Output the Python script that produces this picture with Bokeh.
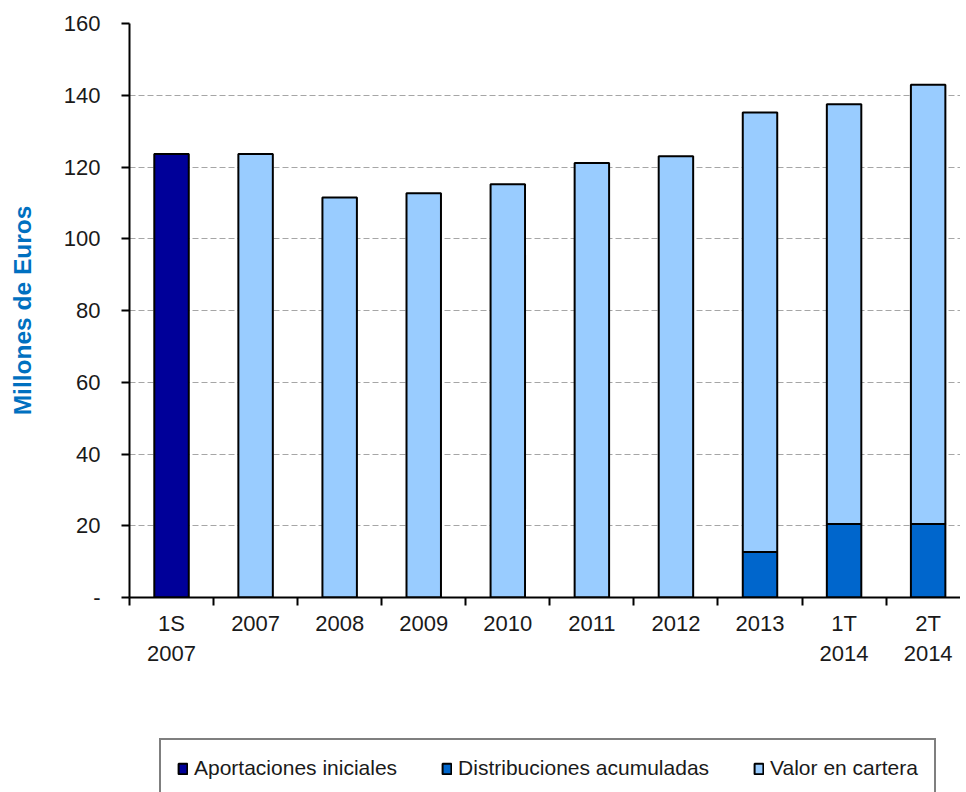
from bokeh.plotting import figure
from bokeh.layouts import column
from bokeh.models import Range1d, FixedTicker, Legend, LegendItem, ColumnDataSource
from bokeh.embed import file_html
from bokeh.resources import INLINE

categories = ["1S\n2007", "2007", "2008", "2009", "2010", "2011", "2012", "2013", "1T\n2014", "2T\n2014"]
aportaciones = [123.6, 0, 0, 0, 0, 0, 0, 0, 0, 0]
distribuciones = [0, 0, 0, 0, 0, 0, 0, 12.7, 20.5, 20.5]
valor = [0, 123.6, 111.5, 112.7, 115.2, 121.1, 123.0, 122.5, 117.0, 122.4]
series_names = ["Aportaciones iniciales", "Distribuciones acumuladas", "Valor en cartera"]
y_ticks = [0, 20, 40, 60, 80, 100, 120, 140, 160]

colors = ["#000099", "#0066CC", "#99CCFF"]
FONT = "Liberation Sans"
fields = ["ap", "dist", "val"]

xs = [i + 0.5 for i in range(len(categories))]
source = ColumnDataSource(dict(x=xs, ap=aportaciones, dist=distribuciones, val=valor))

p = figure(width=960, height=736,
           x_range=Range1d(0, 9.885), y_range=Range1d(0, 160),
           output_backend="svg", toolbar_location=None,
           min_border_left=129, min_border_right=0, min_border_top=23, min_border_bottom=139)

p.vbar_stack(fields, x="x", width=0.41, source=source,
             fill_color=colors, line_color="black", line_width=2)

# x axis
p.xaxis.ticker = FixedTicker(ticks=xs, minor_ticks=list(range(len(categories) + 1)))
p.xaxis.major_label_overrides = {x: c for x, c in zip(xs, categories)}
p.xaxis.major_tick_out = 0
p.xaxis.major_tick_in = 0
p.xaxis.minor_tick_out = 8
p.xaxis.minor_tick_in = 0
p.xaxis.minor_tick_line_width = 2
p.xaxis.axis_line_width = 2
p.xaxis.major_label_standoff = 5
p.xaxis.major_label_text_font = FONT
p.xaxis.major_label_text_font_size = "22px"
p.xaxis.major_label_text_color = "#1a1a1a"

# y axis
p.yaxis.ticker = FixedTicker(ticks=y_ticks)
p.yaxis.major_label_overrides = {0: "-"}
p.yaxis.major_tick_out = 8
p.yaxis.major_tick_in = 0
p.yaxis.major_tick_line_width = 2
p.yaxis.minor_tick_line_color = None
p.yaxis.axis_line_width = 2
p.yaxis.major_label_standoff = 21
p.yaxis.major_label_text_font = FONT
p.yaxis.major_label_text_font_size = "22px"
p.yaxis.major_label_text_color = "#1a1a1a"
p.yaxis.axis_label = "Millones de Euros"
p.yaxis.axis_label_text_font = FONT
p.yaxis.axis_label_text_font_size = "24.5px"
p.yaxis.axis_label_text_font_style = "bold"
p.yaxis.axis_label_text_color = "#0070C0"
p.yaxis.axis_label_standoff = 25

p.xgrid.visible = False
p.ygrid.grid_line_color = "#a6a6a6"
p.ygrid.grid_line_dash = "6 3"
p.ygrid.grid_line_width = 1
p.outline_line_color = None

# legend strip (its lower edge runs off the page, as in the reference)
leg_h = 56
pl = figure(width=960, height=leg_h, x_range=Range1d(-30, -20), y_range=Range1d(-2, -1),
            output_backend="svg", toolbar_location=None,
            x_axis_type=None, y_axis_type=None,
            min_border_left=0, min_border_right=0, min_border_top=0, min_border_bottom=0)
pl.grid.visible = False
pl.outline_line_color = None
lrs = pl.vbar_stack(fields, x="x", width=0.41, source=source,
                    fill_color=colors, line_color="black", line_width=2)
for r in lrs:
    r.visible = False
legend = Legend(items=[LegendItem(label=n, renderers=[r]) for n, r in zip(series_names, lrs)],
                location=(30, leg_h - 62), orientation="horizontal", margin=0,
                padding=16, spacing=44, glyph_width=11, glyph_height=13, label_standoff=6,
                label_text_font=FONT, label_text_font_size="21px", label_text_color="#1a1a1a",
                border_line_color="black", border_line_width=2, background_fill_alpha=1,
                inactive_fill_alpha=0)
pl.add_layout(legend)

layout = column(p, pl, spacing=0)
open("out.html", "w").write(file_html(layout, INLINE))
